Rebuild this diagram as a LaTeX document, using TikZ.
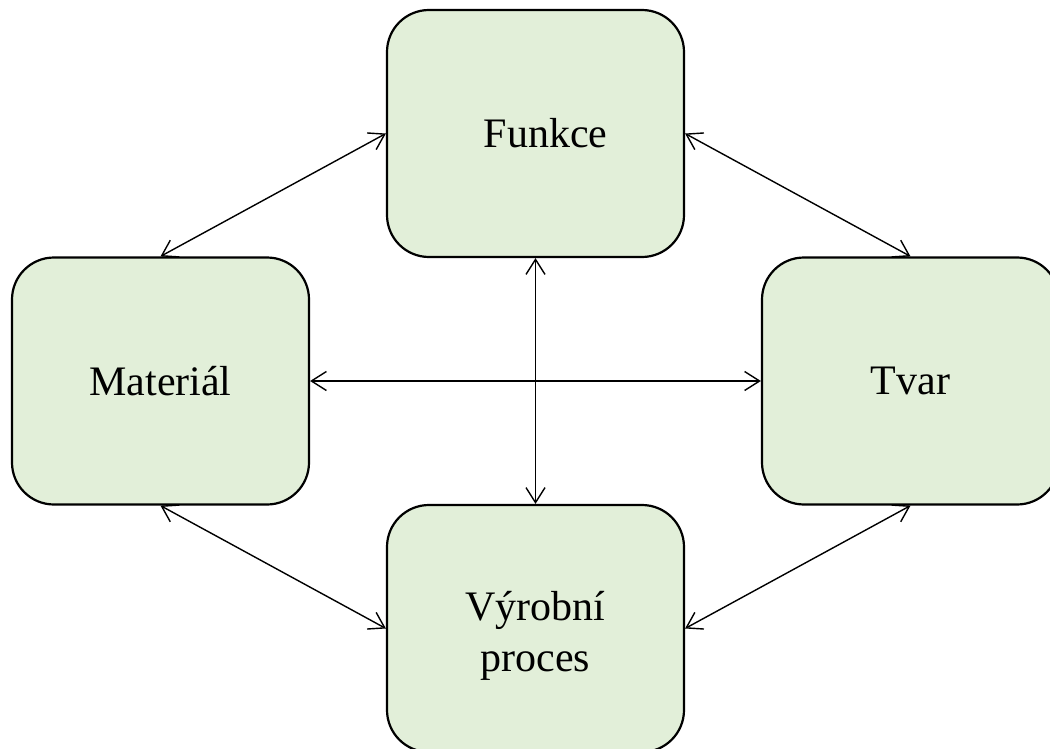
\documentclass[tikz,border=0pt]{standalone}
\usepackage{fontspec}
\setmainfont{Liberation Serif}
\usetikzlibrary{arrows.meta}
\definecolor{boxfill}{HTML}{E2EFD9}
\begin{document}
\begin{tikzpicture}[x=1pt,y=-1pt,
  block/.style={draw=black, line width=2.2pt, fill=boxfill, rounded corners=42pt,
    minimum width=297pt, minimum height=247pt, inner sep=0pt, align=center,
    font=\fontsize{42}{51}\selectfont},
  caption/.style={inner sep=0pt, align=center, font=\fontsize{42}{51}\selectfont},
  link/.style={line width=1.4pt, {Straight Barb[length=15pt,width=19pt]}-{Straight Barb[length=15pt,width=19pt]}}]
  \useasboundingbox (0,0) rectangle (1050,749);
  \clip (0,0) rectangle (1050,749);
  \node[block] (funkce)   at (535.5,133.5) {\hspace*{20pt}Funkce};
  \node[block] (material) at (160.5,381)   {Materiál};
  \node[block] (tvar)     at (910.5,381)   {Tvar};
  \node[block] (vyrobni)  at (535.5,628.5) {};
  \node[caption] (vyrobnitext) at ([yshift=-7pt]vyrobni.center) {Výrobní\\proces};
  \draw[link] (material.north) -- (funkce.west);
  \draw[link] (funkce.east) -- (tvar.north);
  \draw[link] (material.south) -- (vyrobni.west);
  \draw[link] (tvar.south) -- (vyrobni.east);
  \draw[link] (funkce.south) -- (vyrobni.north);
  \draw[link] (material.east) -- (tvar.west);
\end{tikzpicture}
\end{document}
